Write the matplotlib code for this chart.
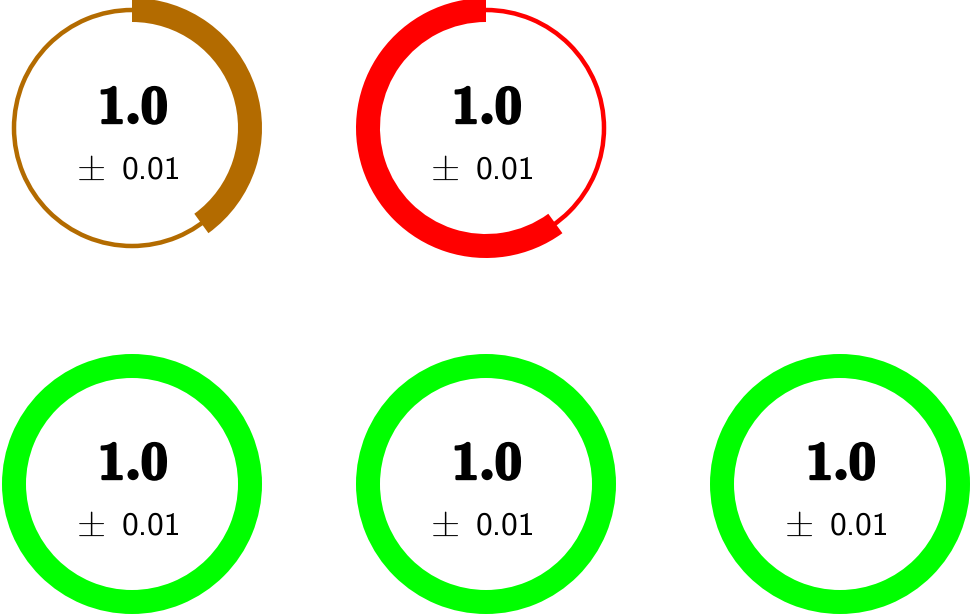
import matplotlib
matplotlib.use("Agg")
import matplotlib.pyplot as plt
import matplotlib.patheffects as pe
from matplotlib.patches import Wedge

plt.rcParams["mathtext.fontset"] = "cm"
plt.rcParams["axes.unicode_minus"] = False

# gauge data
values = [0.4, 0.6, 1.0, 1.0, 1.0]
directions = ["cw", "ccw", "cw", "cw", "cw"]
colors = ["#b36b00", "#ff0000", "#00ff00", "#00ff00", "#00ff00"]
means = [1.0, 1.0, 1.0, 1.0, 1.0]
stds = [0.01, 0.01, 0.01, 0.01, 0.01]

# layout (pixels, figure is 973x614)
W, H = 973, 614
centers = [(132, 128), (486, 128), (132, 484), (486, 484), (840, 484)]
R_OUT = 130
THICK = 24
THIN = 4.5

fig = plt.figure(figsize=(W / 100, H / 100), dpi=100)
ax = fig.add_axes([0, 0, 1, 1])
ax.set_xlim(0, W)
ax.set_ylim(0, H)
ax.set_aspect("equal")
ax.axis("off")

bold = [pe.withStroke(linewidth=1.7, foreground="black")]

for (cx, cy_px), val, d, c, m, s in zip(centers, values, directions, colors, means, stds):
    cy = H - cy_px
    r_mid = R_OUT - THICK / 2
    # thin background ring
    ax.add_patch(Wedge((cx, cy), r_mid + THIN / 2, 0, 360, width=THIN,
                       facecolor=c, edgecolor="none"))
    span = val * 360
    if d == "cw":
        t1, t2 = 90 - span, 90
    else:
        t1, t2 = 90, 90 + span
    ax.add_patch(Wedge((cx, cy), R_OUT, t1, t2, width=THICK,
                       facecolor=c, edgecolor="none"))
    ax.text(cx + 1, cy + 5, "%.1f" % m, ha="center", va="baseline",
            fontsize=39.5, family="cmb10", color="black", path_effects=bold)
    ax.text(cx - 41, cy - 42, r"$\pm$", ha="center", va="center",
            fontsize=27, color="black")
    ax.text(cx - 10, cy - 50.5, "%s" % s, ha="left", va="baseline",
            fontsize=24, family="cmss10", color="black")

fig.savefig("out.png", dpi=100)
